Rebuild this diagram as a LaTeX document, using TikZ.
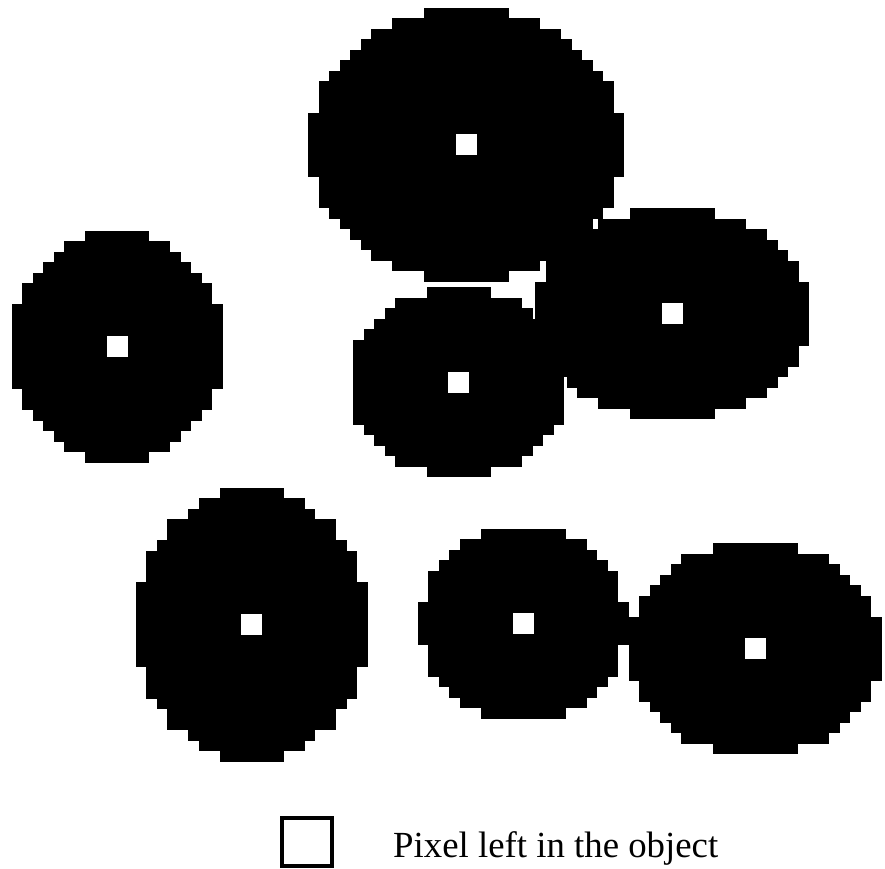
\documentclass[tikz,border=0pt]{standalone}
\usepackage{fontspec}
\setmainfont{Liberation Serif}
\usetikzlibrary{positioning}

% one object: square centre (#2,#3), half axes #4,#5, cells of 10.5
\newcommand\pixblob[5]{%
\pgfmathtruncatemacro\nx{#4/10.5+1}
\pgfmathtruncatemacro\mx{-\nx}
\pgfmathtruncatemacro\ny{#5/10.5+1}
\pgfmathtruncatemacro\my{-\ny}
\foreach \i in {\mx,...,\nx}{
\foreach \j in {\my,...,\ny}{
\pgfmathtruncatemacro\inside{((\i+0.5)*10.5/#4)^2+((\j+0.5)*10.5/#5)^2<=1}
\ifnum\inside=1
\path[blobcell] (#2+\i*10.5,#3+\j*10.5) rectangle ++(10.5,10.5);
\fi
}}
\node[pixel] (#1) at (#2,#3) {};
}

\begin{document}
\begin{tikzpicture}[x=1pt,y=-1pt,
blobcell/.style={fill=black,draw=black,line width=0.4pt},
pixel/.style={rectangle,fill=white,inner sep=0pt,minimum size=21pt},
legbox/.style={rectangle,draw,line width=3.5pt,inner sep=0pt,minimum width=50pt,minimum height=48pt}]
\useasboundingbox (0,0) rectangle (885,868);
\pixblob{top}{466}{144.5}{158}{136}
\pixblob{left}{117}{346.5}{106}{115}
\pixblob{midright}{672}{313.5}{136}{106}
\pixblob{mid}{458.5}{382}{110}{94}
\pixblob{botleft}{251.5}{624.5}{116}{136}
\pixblob{botmid}{523}{623.5}{103.5}{97}
\pixblob{botright}{755}{648.5}{128}{106}
\node[legbox] (legend) at (307,842) {};
\node[anchor=base west,inner sep=0pt] (legtext) at (393,857)
{\fontsize{36.8}{44}\selectfont Pixel left in the object};
\end{tikzpicture}
\end{document}
